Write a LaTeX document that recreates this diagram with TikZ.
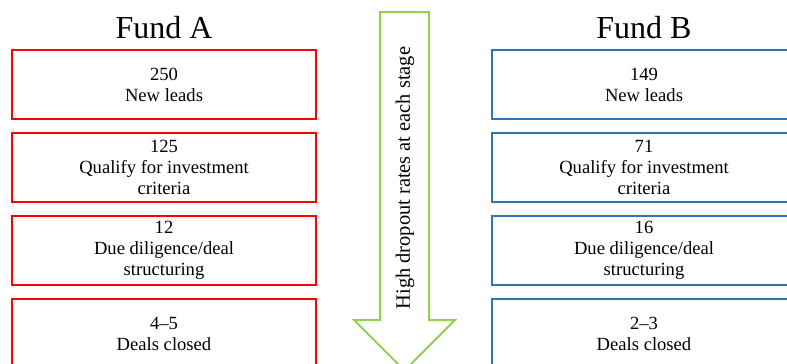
\documentclass[tikz,border=0pt]{standalone}
\usepackage{fontspec}
\setmainfont{Liberation Serif}
\definecolor{fundred}{RGB}{255,0,0}
\definecolor{fundblue}{RGB}{46,117,182}
\definecolor{dropgreen}{RGB}{146,208,80}
\tikzset{
  stagebox/.style={draw, line width=2pt, fill=white, minimum width=304pt,
    minimum height=69pt, align=center, inner sep=0pt,
    font=\fontsize{18.6}{21}\selectfont},
  redbox/.style={stagebox, draw=fundred},
  bluebox/.style={stagebox, draw=fundblue},
  fundtitle/.style={font=\fontsize{32}{36}\selectfont, inner sep=0pt, anchor=base},
}
\begin{document}
\begin{tikzpicture}[x=1pt, y=-1pt]
  \useasboundingbox (0,0) rectangle (787,364);
  \clip (0,0) rectangle (787,364);

  % titles
  \node[fundtitle] (titleA) at (164,38) {Fund A};
  \node[fundtitle] (titleB) at (644,38) {Fund B};

  % Fund A stages
  \node[redbox] (a1) at (164,84.75) {250\\New leads};
  \node[redbox] (a2) at (164,167.75) {125\\Qualify for investment\\criteria};
  \node[redbox] (a3) at (164,250.75) {12\\Due diligence/deal\\structuring};
  \node[redbox] (a4) at (164,333.75) {4–5\\Deals closed};

  % Fund B stages
  \node[bluebox] (b1) at (644,84.75) {149\\New leads};
  \node[bluebox] (b2) at (644,167.75) {71\\Qualify for investment\\criteria};
  \node[bluebox] (b3) at (644,250.75) {16\\Due diligence/deal\\structuring};
  \node[bluebox] (b4) at (644,333.75) {2–3\\Deals closed};

  % downward block arrow
  \draw[dropgreen, line width=2pt, line join=miter, fill=white]
    (380,12) -- (429,12) -- (429,320) -- (455,320) -- (404.5,370.5)
    -- (354,320) -- (380,320) -- cycle;
  \node[rotate=90, font=\fontsize{20.4}{24}\selectfont, inner sep=0pt]
    (drop) at (405,178) {High dropout rates at each stage};
\end{tikzpicture}
\end{document}
